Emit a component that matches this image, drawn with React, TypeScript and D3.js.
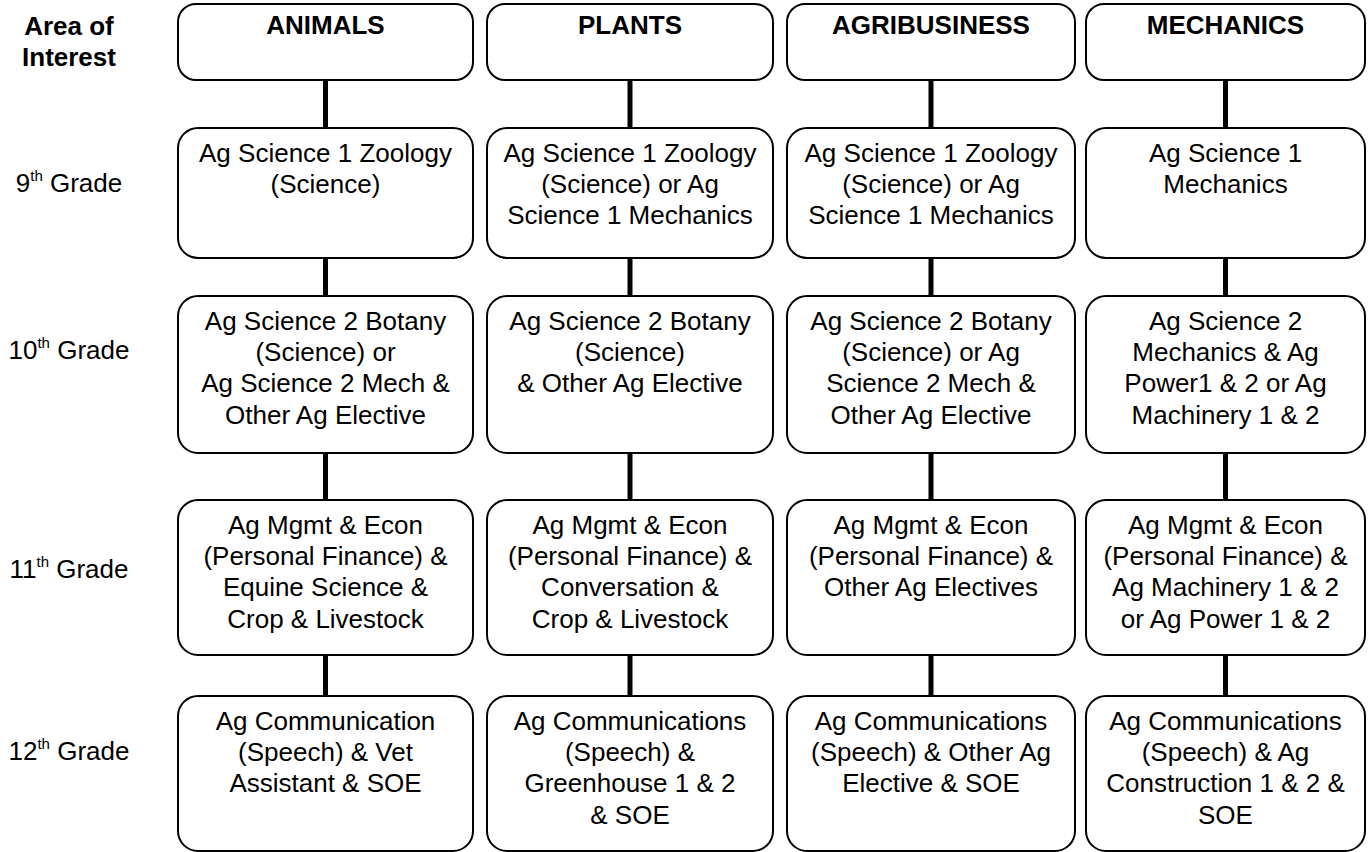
// Course pathway chart: one column per area of interest, one row per grade.
// Plain SVG boxes + connectors; d3 only for the line layout.

import * as d3 from "d3";

const AREAS = ["ANIMALS", "PLANTS", "AGRIBUSINESS", "MECHANICS"];
const GRADES = ["9", "10", "11", "12"];
const CORNER_LABEL = ["Area of", "Interest"];

// courses[grade][area] -> wrapped lines as printed in the source
const GRADE_9 = [
  ["Ag Science 1 Zoology", "(Science)"],
  ["Ag Science 1 Zoology", "(Science) or Ag", "Science 1 Mechanics"],
  ["Ag Science 1 Zoology", "(Science) or Ag", "Science 1 Mechanics"],
  ["Ag Science 1", "Mechanics"],
];
const GRADE_10 = [
  ["Ag Science 2 Botany", "(Science) or", "Ag Science 2 Mech &", "Other Ag Elective"],
  ["Ag Science 2 Botany", "(Science)", "& Other Ag Elective"],
  ["Ag Science 2 Botany", "(Science) or Ag", "Science 2 Mech &", "Other Ag Elective"],
  ["Ag Science 2", "Mechanics & Ag", "Power1 & 2 or Ag", "Machinery 1 & 2"],
];
const GRADE_11 = [
  ["Ag Mgmt & Econ", "(Personal Finance) &", "Equine Science &", "Crop & Livestock"],
  ["Ag Mgmt & Econ", "(Personal Finance) &", "Conversation &", "Crop & Livestock"],
  ["Ag Mgmt & Econ", "(Personal Finance) &", "Other Ag Electives"],
  ["Ag Mgmt & Econ", "(Personal Finance) &", "Ag Machinery 1 & 2", "or Ag Power 1 & 2"],
];
const GRADE_12 = [
  ["Ag Communication", "(Speech) & Vet", "Assistant & SOE"],
  ["Ag Communications", "(Speech) &", "Greenhouse 1 & 2", "& SOE"],
  ["Ag Communications", "(Speech) & Other Ag", "Elective & SOE"],
  ["Ag Communications", "(Speech) & Ag", "Construction 1 & 2 &", "SOE"],
];
const COURSES = [GRADE_9, GRADE_10, GRADE_11, GRADE_12];

// layout (columns/rows are not evenly spaced)
const W = 1368;
const H = 852;
const COL_X: [number, number][] = [
  [178, 473],
  [487, 773],
  [787, 1075],
  [1086, 1365],
];
const HEADER_Y: [number, number] = [4, 80];
const ROW_Y: [number, number][] = [
  [128, 258],
  [296, 453],
  [500, 655],
  [696, 851],
];
const GRADE_BASELINE = [192, 359, 578, 760];
const LABEL_X = 69;
const FONT = "'Liberation Sans', Arial, Helvetica, sans-serif";
const FS = 26;
const LINE_H = 31.2;

export default function App() {
  // baseline offset of each wrapped line inside a box
  const lineY = d3.scaleLinear().domain([0, 1]).range([0, LINE_H]);

  return (
    <svg
      width={W}
      height={H}
      viewBox={`0 0 ${W} ${H}`}
      style={{ position: "absolute", left: 0, top: 0, background: "#fff" }}
      fontFamily={FONT}
    >
      {/* corner label */}
      <text x={LABEL_X} textAnchor="middle" fontSize={FS} fontWeight="bold" fill="#000">
        {CORNER_LABEL.map((l, i) => (
          <tspan key={i} x={LABEL_X} y={35 + lineY(i)}>
            {l}
          </tspan>
        ))}
      </text>

      {/* grade labels */}
      {GRADES.map((g, i) => (
        <text
          key={g}
          x={LABEL_X}
          y={GRADE_BASELINE[i]}
          textAnchor="middle"
          fontSize={FS}
          fill="#000"
        >
          {g}
          <tspan fontSize={15} dy={-11}>
            th
          </tspan>
          <tspan dy={11}> Grade</tspan>
        </text>
      ))}

      {/* connectors (drawn first so boxes sit on top) */}
      {AREAS.map((a, c) => {
        const cx = (COL_X[c][0] + COL_X[c][1]) / 2;
        const tops = [HEADER_Y, ...ROW_Y];
        return tops.slice(0, -1).map((r, i) => (
          <line
            key={`${a}-${i}`}
            x1={cx}
            x2={cx}
            y1={r[1]}
            y2={tops[i + 1][0]}
            stroke="#000"
            strokeWidth={5}
          />
        ));
      })}

      {/* headers */}
      {AREAS.map((a, c) => {
        const [x0, x1] = COL_X[c];
        return (
          <g key={a}>
            <rect
              x={x0}
              y={HEADER_Y[0]}
              width={x1 - x0}
              height={HEADER_Y[1] - HEADER_Y[0]}
              rx={18}
              fill="#fff"
              stroke="#000"
              strokeWidth={2}
            />
            <text
              x={(x0 + x1) / 2}
              y={HEADER_Y[0] + 30}
              textAnchor="middle"
              fontSize={FS}
              fontWeight="bold"
              fill="#000"
            >
              {a}
            </text>
          </g>
        );
      })}

      {/* course boxes */}
      {COURSES.map((row, r) =>
        row.map((lines, c) => {
          const [x0, x1] = COL_X[c];
          const [y0, y1] = ROW_Y[r];
          const cx = (x0 + x1) / 2;
          return (
            <g key={`${r}-${c}`}>
              <rect
                x={x0}
                y={y0}
                width={x1 - x0}
                height={y1 - y0}
                rx={20}
                fill="#fff"
                stroke="#000"
                strokeWidth={2}
              />
              <text textAnchor="middle" fontSize={FS} fill="#000">
                {lines.map((l, i) => (
                  <tspan key={i} x={cx} y={y0 + 34 + lineY(i)}>
                    {l}
                  </tspan>
                ))}
              </text>
            </g>
          );
        })
      )}
    </svg>
  );
}
